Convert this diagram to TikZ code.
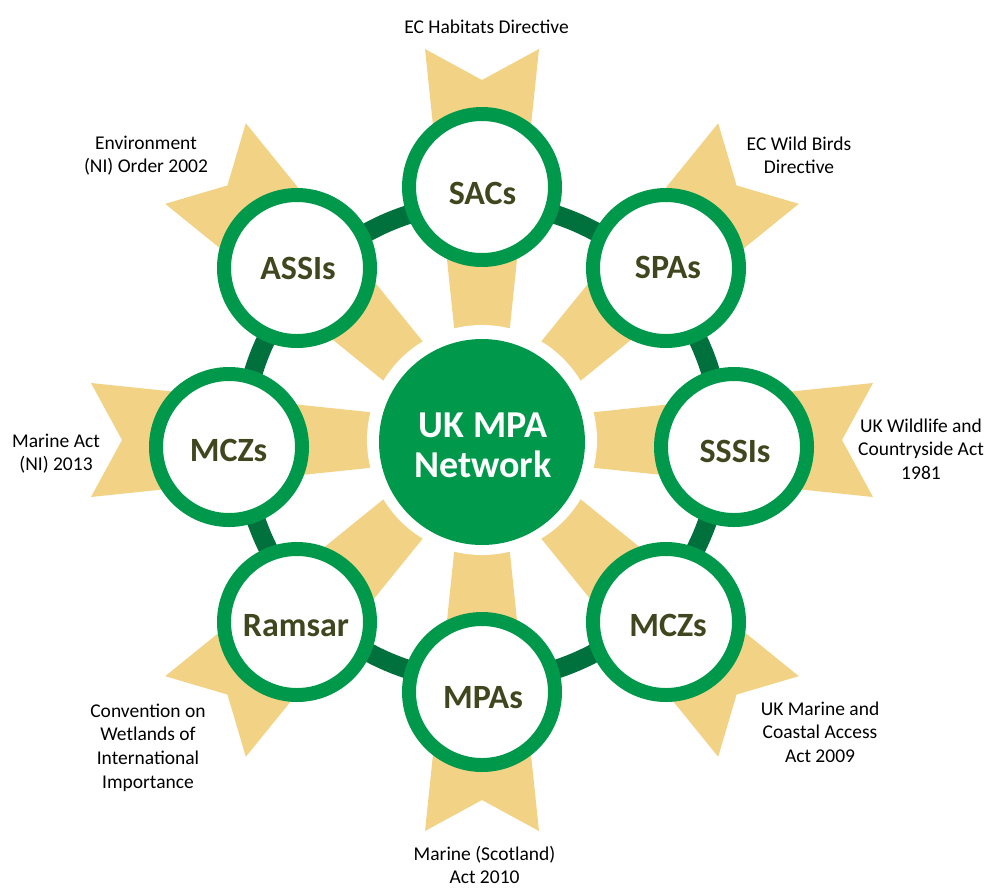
\documentclass[tikz,border=0pt]{standalone}
\usepackage{fontspec}
\setmainfont{Carlito}
\definecolor{mpagreen}{RGB}{0,153,76}
\definecolor{mpadark}{RGB}{0,112,60}
\definecolor{mpayellow}{RGB}{242,211,134}
\definecolor{mpaolive}{RGB}{64,70,30}
\newcommand\mlines[1]{\begin{tabular}[t]{@{}c@{}}#1\end{tabular}}
\newcommand\mlinesnd[1]{\raisebox{0pt}[\height][0pt]{\begin{tabular}[t]{@{}c@{}}#1\end{tabular}}}
\begin{document}
\begin{tikzpicture}[x=1pt,y=-1pt,
  banner/.style={fill=mpayellow},
  outer/.style={circle, draw=mpagreen, line width=14pt, fill=white, minimum size=146pt, inner sep=0pt},
  hubstyle/.style={circle, fill=mpagreen, minimum size=206pt, inner sep=0pt},
  ringline/.style={draw=mpadark, line width=19pt},
  gap/.style={fill=white},
  lab/.style={font=\fontsize{34}{40}\selectfont\bfseries, text=mpaolive, anchor=base, inner sep=0pt},
  hubtext/.style={font=\fontsize{38}{40}\selectfont\bfseries, text=white, anchor=base, inner sep=0pt},
  src/.style={font=\fontsize{19.5}{23.8}\selectfont, anchor=base, inner sep=0pt}
]
\useasboundingbox (0,0) rectangle (987,887);
% ribbons
\foreach \a in {0,45,...,315}{
  \fill[banner, shift={(482,440)}, rotate=\a] (100,-26.6) -- (391,-57) -- (360,0) -- (391,57) -- (100,26.6) -- cycle;
}
% white gap around hub
\fill[gap] (482,440) circle[radius=115];
% hub
\node[hubstyle] (hub) at (482,442) {};
% connecting ring
\draw[ringline] (hub.center) circle[radius=239];
% outer circles
\node[outer] (sacs) at (482,187) {};
\node[outer] (spas) at (666,268) {};
\node[outer] (sssis) at (734,447) {};
\node[outer] (mczr) at (666,622) {};
\node[outer] (mpas) at (482,692) {};
\node[outer] (ramsar) at (297,622) {};
\node[outer] (mczl) at (229,447) {};
\node[outer] (assis) at (297,268) {};
% circle labels
\node[lab] (tsacs) at (482.5,204) {SACs};
\node[lab] (tspas) at (668,278) {SPAs};
\node[lab] (tsssis) at (735,462) {SSSIs};
\node[lab] (tmczr) at (668,636) {MCZs};
\node[lab] (tmpas) at (483,708) {MPAs};
\node[lab] (tramsar) at (296,636.5) {Ramsar};
\node[lab] (tmczl) at (228.5,461) {MCZs};
\node[lab] (tassis) at (298,279) {ASSIs};
% hub text
\node[hubtext] (thub) at (483,437) {\mlines{UK MPA\\Network}};
% source labels
\node[src] (s1) at (486.5,33) {\mlines{EC Habitats Directive}};
\node[src] (s2) at (799,150) {\mlines{EC Wild Birds\\Directive}};
\node[src] (s3) at (921,432) {\mlines{UK Wildlife and\\Countryside Act\\1981}};
\node[src] (s4) at (820,715) {\mlines{UK Marine and\\Coastal Access\\Act 2009}};
\node[src] (s5) at (484.5,860) {\mlinesnd{Marine (Scotland)\\Act 2010}};
\node[src] (s6) at (148,717) {\mlines{Convention on\\Wetlands of\\International\\Importance}};
\node[src] (s7) at (56,447) {\mlines{Marine Act\\(NI) 2013}};
\node[src] (s8) at (146,149) {\mlines{Environment\\(NI) Order 2002}};
\end{tikzpicture}
\end{document}
